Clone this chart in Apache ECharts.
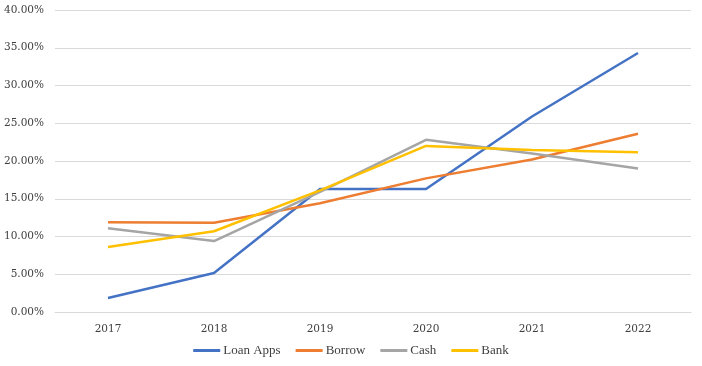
<!DOCTYPE html>
<html>
<head>
<meta charset="utf-8">
<script src="https://cdn.jsdelivr.net/npm/echarts@6/dist/echarts.min.js"></script>
<style>html,body{margin:0;padding:0;background:#fff}#c{width:702px;height:366px}</style>
</head>
<body>
<div id="c"></div>
<script>
const categories = ['2017', '2018', '2019', '2020', '2021', '2022'];
const loanApps = [1.85, 5.17, 16.3, 16.3, 25.9, 34.3];
const borrow = [11.9, 11.83, 14.4, 17.7, 20.2, 23.6];
const cash = [11.1, 9.4, 15.9, 22.8, 21.0, 19.0];
const bank = [8.6, 10.7, 16.1, 22.0, 21.45, 21.15];
const seriesNames = ['Loan Apps', 'Borrow', 'Cash', 'Bank'];
const colors = ['#4472C4', '#ED7D31', '#A5A5A5', '#FFC000'];

const font = 'Georgia, "DejaVu Serif", serif';
const legendFont = 'Georgia, "Liberation Serif", serif';
const chart = echarts.init(document.getElementById('c'));
const dataSets = [loanApps, borrow, cash, bank];
chart.setOption({
  animation: false,
  textStyle: { fontFamily: font },
  grid: { left: 55, right: 11, top: 10, bottom: 54 },
  legend: {
    bottom: 4,
    icon: 'rect',
    itemWidth: 27,
    itemHeight: 3,
    itemGap: 15,
    textStyle: { fontFamily: legendFont, fontSize: 13, color: '#404040', padding: [0, 0, 0, -2] },
    data: seriesNames
  },
  xAxis: {
    type: 'category',
    data: categories,
    boundaryGap: true,
    axisLine: { lineStyle: { color: '#d9d9d9' } },
    axisTick: { show: false },
    axisLabel: { fontFamily: font, fontSize: 10.5, color: '#404040', margin: 12 }
  },
  yAxis: {
    type: 'value',
    min: 0, max: 40, interval: 5,
    axisLine: { show: false },
    axisTick: { show: false },
    splitLine: { lineStyle: { color: '#d9d9d9' } },
    axisLabel: { fontFamily: font, fontSize: 10.5, color: '#404040', margin: 11,
      formatter: v => v.toFixed(2) + '%' }
  },
  series: dataSets.map((d, i) => ({
    name: seriesNames[i],
    type: 'line',
    data: d,
    showSymbol: false,
    symbol: 'none',
    color: colors[i],
    lineStyle: { width: 2.5, color: colors[i] }
  }))
});
</script>
</body>
</html>
